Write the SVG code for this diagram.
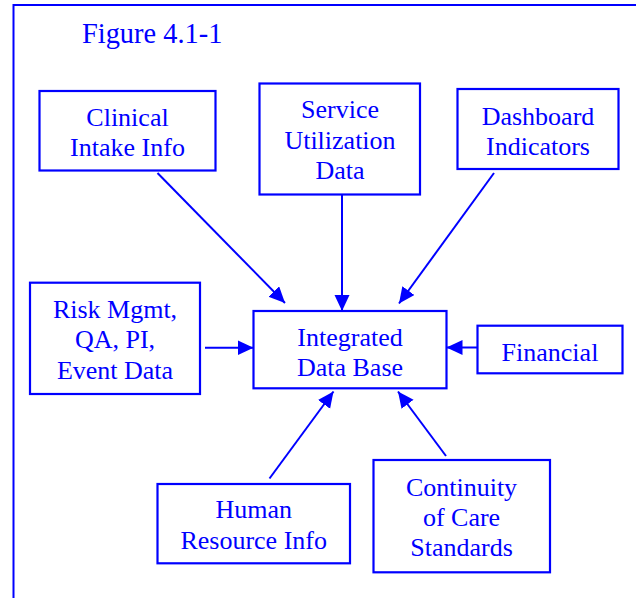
<svg xmlns="http://www.w3.org/2000/svg" width="636" height="598" viewBox="0 0 636 598">
  <style>
    .box { fill: #ffffff; stroke: #0000ff; stroke-width: 2.2; }
    .lbl { font-family: "Liberation Serif", "Times New Roman", serif; font-size: 26px; fill: #0000ff; text-anchor: middle; }
    .title { font-family: "Liberation Serif", "Times New Roman", serif; font-size: 28.4px; fill: #0000ff; }
    .edge { stroke: #0000ff; stroke-width: 2; fill: none; marker-end: url(#arrow); }
    .frame { fill: none; stroke: #0000ff; stroke-width: 2; }
  </style>
  <defs>
    <marker id="arrow" markerUnits="userSpaceOnUse" markerWidth="17" markerHeight="16" refX="16" refY="7.5" orient="auto">
      <path d="M0,0 L16,7.5 L0,15 z" fill="#0000ff"/>
    </marker>
  </defs>
  <rect width="636" height="598" fill="#ffffff"/>
  <path class="frame" d="M13.5,600 V5 H640"/>
  <text class="title" x="82" y="43">Figure 4.1-1</text>

  <g id="connectors">
    <line class="edge" x1="157.5" y1="173" x2="285" y2="303"/>
    <line class="edge" x1="342" y1="195" x2="342" y2="311"/>
    <line class="edge" x1="494" y1="173" x2="399" y2="303.5"/>
    <line class="edge" x1="205" y1="347.7" x2="253.5" y2="347.7"/>
    <line class="edge" x1="477.5" y1="347.5" x2="446.5" y2="347.5"/>
    <line class="edge" x1="269.5" y1="478.5" x2="333.5" y2="391.5"/>
    <line class="edge" x1="446" y1="456" x2="398" y2="391.5"/>
  </g>

  <g id="clinical">
    <rect class="box" x="39.5" y="91" width="176" height="79.5"/>
    <text class="lbl" x="127.5" y="125.7">Clinical</text>
    <text class="lbl" x="127.5" y="156">Intake Info</text>
  </g>
  <g id="service">
    <rect class="box" x="259.5" y="83.5" width="160.5" height="111"/>
    <text class="lbl" x="340" y="118.3">Service</text>
    <text class="lbl" x="340" y="149">Utilization</text>
    <text class="lbl" x="340" y="179.2">Data</text>
  </g>
  <g id="dashboard">
    <rect class="box" x="457.5" y="89" width="161" height="80"/>
    <text class="lbl" x="538" y="125">Dashboard</text>
    <text class="lbl" x="538" y="155.3">Indicators</text>
  </g>
  <g id="risk">
    <rect class="box" x="30" y="282.7" width="170" height="111.3"/>
    <text class="lbl" x="115" y="317.7">Risk Mgmt,</text>
    <text class="lbl" x="115" y="348.3">QA, PI,</text>
    <text class="lbl" x="115" y="379">Event Data</text>
  </g>
  <g id="integrated">
    <rect class="box" x="253.5" y="311" width="193" height="77.3"/>
    <text class="lbl" x="350" y="345.7">Integrated</text>
    <text class="lbl" x="350" y="376">Data Base</text>
  </g>
  <g id="financial">
    <rect class="box" x="477.5" y="325.7" width="145" height="47.6"/>
    <text class="lbl" x="550" y="360.7">Financial</text>
  </g>
  <g id="human">
    <rect class="box" x="157.5" y="484" width="192.5" height="79.3"/>
    <text class="lbl" x="253.7" y="518.3">Human</text>
    <text class="lbl" x="253.7" y="549">Resource Info</text>
  </g>
  <g id="continuity">
    <rect class="box" x="373.5" y="460" width="176.5" height="112.3"/>
    <text class="lbl" x="461.5" y="496">Continuity</text>
    <text class="lbl" x="461.5" y="525.7">of Care</text>
    <text class="lbl" x="461.5" y="556">Standards</text>
  </g>
</svg>
